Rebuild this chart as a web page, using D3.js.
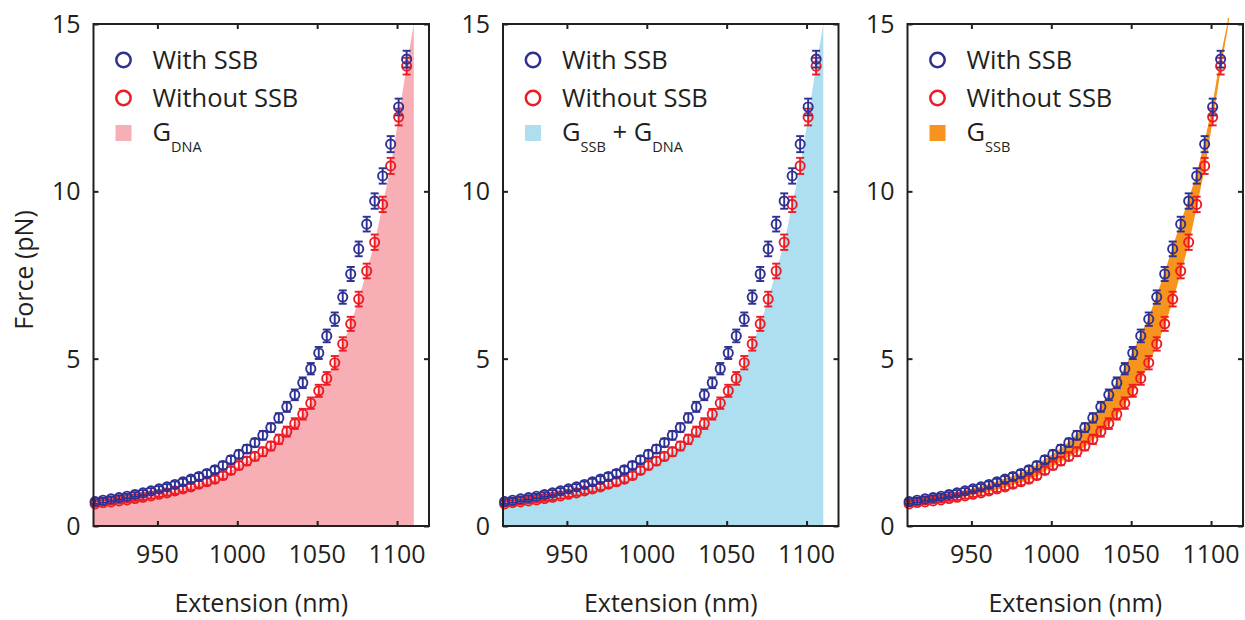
<!DOCTYPE html>
<html>
<head>
<meta charset="utf-8">
<script src="https://cdn.jsdelivr.net/npm/d3@7"></script>
<style>
  body { margin: 0; background: #fff; }
  text { font-family: "Open Sans", sans-serif; fill: #231f20; }
</style>
</head>
<body>
<svg width="1245" height="620"></svg>
<script>
var svg = d3.select("svg");

// extension (nm), shared by both series
var extension = [911, 916, 921, 926, 931, 936, 941, 946, 951, 956,
                 961, 966, 971, 976, 981, 986, 991, 996, 1001, 1006,
                 1011, 1016, 1021, 1026, 1031, 1036, 1041, 1046, 1051, 1056,
                 1061, 1066, 1071, 1076, 1081, 1086, 1091, 1096, 1101, 1106];

var withSSB = [0.73, 0.77, 0.81, 0.85, 0.89, 0.94, 0.99, 1.05, 1.11, 1.17,
               1.24, 1.32, 1.40, 1.48, 1.57, 1.68, 1.81, 1.98, 2.14, 2.30,
               2.49, 2.71, 2.94, 3.23, 3.56, 3.92, 4.28, 4.70, 5.17, 5.68,
               6.18, 6.84, 7.53, 8.28, 9.02, 9.71, 10.46, 11.41, 12.52, 13.95];
var withSSBErr = [0.07, 0.07, 0.07, 0.07, 0.07, 0.07, 0.08, 0.08, 0.08, 0.08,
                  0.09, 0.09, 0.09, 0.10, 0.10, 0.10, 0.11, 0.11, 0.12, 0.12,
                  0.12, 0.13, 0.13, 0.14, 0.15, 0.16, 0.16, 0.17, 0.18, 0.19,
                  0.20, 0.20, 0.21, 0.22, 0.22, 0.23, 0.23, 0.24, 0.25, 0.25];

var withoutSSB = [0.66, 0.70, 0.72, 0.75, 0.78, 0.82, 0.86, 0.90, 0.95, 0.99,
                  1.05, 1.11, 1.17, 1.25, 1.32, 1.40, 1.51, 1.66, 1.81, 1.94,
                  2.08, 2.22, 2.39, 2.59, 2.82, 3.06, 3.34, 3.67, 4.04, 4.41,
                  4.88, 5.44, 6.04, 6.78, 7.62, 8.48, 9.61, 10.76, 12.22, 13.74];
var withoutSSBErr = [0.07, 0.07, 0.07, 0.07, 0.07, 0.07, 0.08, 0.08, 0.08, 0.08,
                     0.09, 0.09, 0.09, 0.10, 0.10, 0.10, 0.11, 0.11, 0.12, 0.12,
                     0.12, 0.13, 0.13, 0.14, 0.15, 0.16, 0.16, 0.17, 0.18, 0.19,
                     0.20, 0.20, 0.21, 0.22, 0.22, 0.23, 0.23, 0.24, 0.25, 0.25];

// ends of the fitted curves used for the shaded areas
var curveStart = [910, 0.64, 0.70];   // x, DNA force, SSB force
var curveEnd = [1110.5, 15, 15];

var xTicks = [950, 1000, 1050, 1100];
var yTicks = [0, 5, 10, 15];
var xDomain = [910, 1120];
var yDomain = [0, 15];

var seriesNames = ["With SSB", "Without SSB"];
var areaNames = [["G", "DNA"], ["G", "SSB", " + G", "DNA"], ["G", "SSB"]];

var blue = "#2e3192", red = "#ed1c24", ink = "#231f20";
var panels = [
  { left: 93.5, fill: "#f8aeb5", kind: "dna" },
  { left: 503, fill: "#addff0", kind: "dna" },
  { left: 907.5, fill: "#f7941d", kind: "ssb" }
];
var pw = 335.5, plotTop = 24, plotBottom = 526;

var y = d3.scaleLinear().domain(yDomain).range([plotBottom, plotTop]);

var dnaPts = [[curveStart[0], curveStart[1]]]
  .concat(extension.map(function(d, i){ return [d, withoutSSB[i]]; }))
  .concat([[curveEnd[0], curveEnd[1]]]);
var ssbPts = [[curveStart[0], curveStart[2]]]
  .concat(extension.map(function(d, i){ return [d, withSSB[i]]; }))
  .concat([[curveEnd[0], curveEnd[2]]]);

function styleTicks(a){
  a.select(".domain").remove();
  a.selectAll("line").attr("stroke", ink).attr("stroke-width", 2);
}

panels.forEach(function(p, pi){
  var x = d3.scaleLinear().domain(xDomain).range([p.left, p.left + pw]);
  var g = svg.append("g");

  var clipId = "clip" + pi;
  svg.append("clipPath").attr("id", clipId)
    .append("rect").attr("x", p.left).attr("y", plotTop - 6).attr("width", pw).attr("height", plotBottom - plotTop + 6);
  var plot = g.append("g").attr("clip-path", "url(#" + clipId + ")");

  if (p.kind == "dna") {
    var area = d3.area()
      .x(function(d){ return x(d[0]); })
      .y0(y(0))
      .y1(function(d){ return y(d[1]); })
      .curve(d3.curveMonotoneX);
    plot.append("path").datum(dnaPts).attr("d", area).attr("fill", p.fill);
  } else {
    // band between the two curves
    var band = dnaPts.concat(ssbPts.slice().reverse());
    var line = d3.line()
      .x(function(d){ return x(d[0]); })
      .y(function(d){ return y(d[1]); });
    plot.append("path").datum(band).attr("d", line)
      .attr("fill", p.fill).attr("stroke", p.fill).attr("stroke-width", 1.2);
    var last = dnaPts[dnaPts.length - 1];
    plot.append("line")
      .attr("x1", x(last[0])).attr("y1", y(last[1]))
      .attr("x2", x(last[0] + 0.6)).attr("y2", y(last[1] + 0.3))
      .attr("stroke", p.fill).attr("stroke-width", 1.2);
  }

  // data points, red first, blue on top
  [[withoutSSB, withoutSSBErr, red], [withSSB, withSSBErr, blue]].forEach(function(s){
    var pts = g.append("g").attr("stroke", s[2]).attr("fill", "none").attr("stroke-width", 1.9);
    extension.forEach(function(ex, i){
      var cx = x(ex), cy = y(s[0][i]), lo = y(s[0][i] - s[1][i]), hi = y(s[0][i] + s[1][i]);
      pts.append("line").attr("x1", cx).attr("x2", cx).attr("y1", lo).attr("y2", hi);
      pts.append("line").attr("x1", cx - 4).attr("x2", cx + 4).attr("y1", lo).attr("y2", lo);
      pts.append("line").attr("x1", cx - 4).attr("x2", cx + 4).attr("y1", hi).attr("y2", hi);
      pts.append("circle").attr("cx", cx).attr("cy", cy).attr("r", 4.6);
    });
  });

  // box and inward ticks
  g.append("rect").attr("x", p.left).attr("y", plotTop).attr("width", pw).attr("height", plotBottom - plotTop)
    .attr("fill", "none").attr("stroke", ink).attr("stroke-width", 2);

  g.append("g").attr("transform", "translate(0," + plotBottom + ")")
    .call(d3.axisBottom(x).tickValues(xTicks).tickSize(-5).tickFormat("")).call(styleTicks);
  g.append("g").attr("transform", "translate(0," + plotTop + ")")
    .call(d3.axisTop(x).tickValues(xTicks).tickSize(-5).tickFormat("")).call(styleTicks);
  g.append("g").attr("transform", "translate(" + p.left + ",0)")
    .call(d3.axisLeft(y).tickValues(yTicks).tickSize(-5).tickFormat("")).call(styleTicks);
  g.append("g").attr("transform", "translate(" + (p.left + pw) + ",0)")
    .call(d3.axisRight(y).tickValues(yTicks).tickSize(-5).tickFormat("")).call(styleTicks);

  // tick labels
  g.selectAll(".xl").data(xTicks).enter().append("text")
    .attr("x", function(d){ return x(d); }).attr("y", 563)
    .attr("text-anchor", "middle").attr("font-size", 25).text(function(d){ return d; });
  g.selectAll(".yl").data(yTicks).enter().append("text")
    .attr("x", p.left - 13).attr("y", function(d){ return y(d) + 9; })
    .attr("text-anchor", "end").attr("font-size", 25).text(function(d){ return d; });

  g.append("text").attr("x", p.left + pw / 2).attr("y", 612)
    .attr("text-anchor", "middle").attr("font-size", 25).text("Extension (nm)");

  // legend
  var lx = p.left + 30, tx = p.left + 59;
  [blue, red].forEach(function(c, i){
    g.append("circle").attr("cx", lx).attr("cy", 60 + i * 38).attr("r", 7.2)
      .attr("fill", "none").attr("stroke", c).attr("stroke-width", 2.5);
    g.append("text").attr("x", tx).attr("y", 69 + i * 38).attr("font-size", 25.5).text(seriesNames[i]);
  });
  g.append("rect").attr("x", lx - 8).attr("y", 125).attr("width", 16).attr("height", 16).attr("fill", p.fill);
  var t = g.append("text").attr("x", tx).attr("y", 141).attr("font-size", 25.5);
  areaNames[pi].forEach(function(s, k){
    var sub = k % 2 == 1;
    t.append("tspan").attr("font-size", sub ? 14.5 : 25.5).attr("dy", k == 0 ? 0 : (sub ? 11 : -11)).text(s);
  });
});

svg.append("text").attr("transform", "translate(33,270) rotate(-90)")
  .attr("text-anchor", "middle").attr("font-size", 25).text("Force (pN)");
</script>
</body>
</html>
